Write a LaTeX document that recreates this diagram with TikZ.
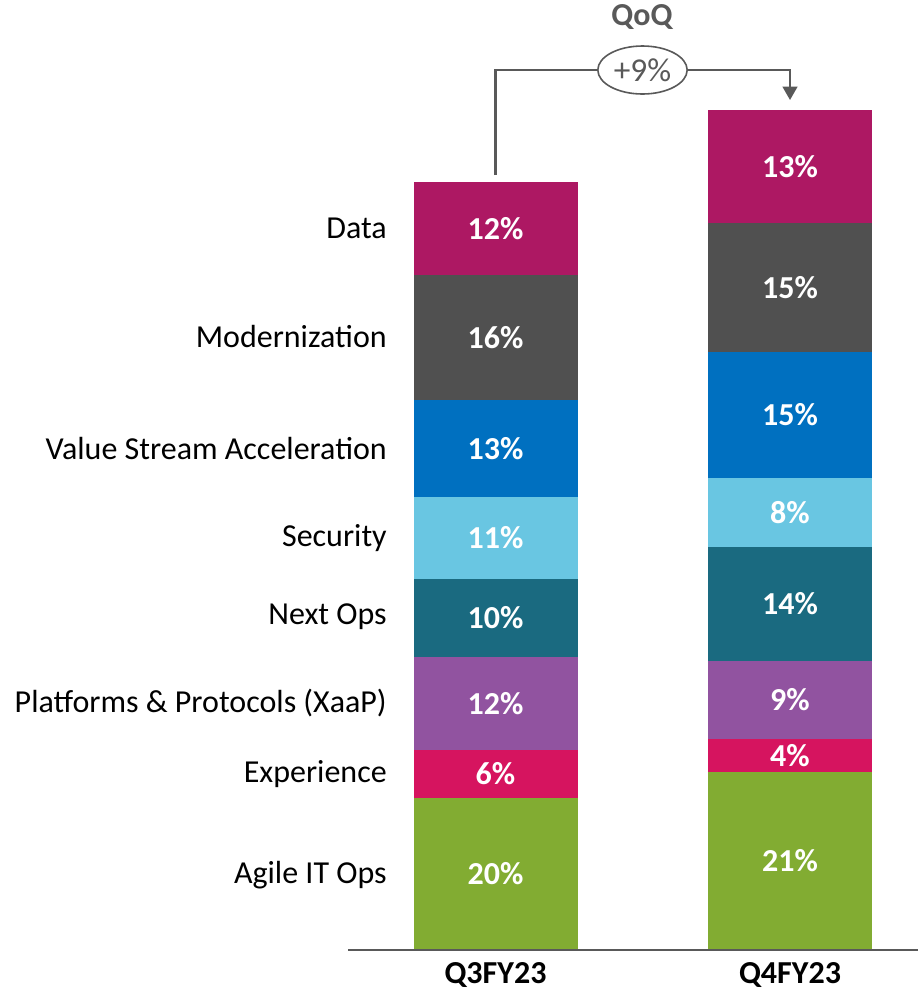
\documentclass[tikz,border=0pt]{standalone}
\usepackage{fontspec}
\setmainfont{Carlito}
\usetikzlibrary{positioning,arrows.meta,shapes.geometric}
\definecolor{cdata}{RGB}{173,24,99}
\definecolor{cmodern}{RGB}{80,80,80}
\definecolor{cvalue}{RGB}{0,112,192}
\definecolor{csecurity}{RGB}{105,198,226}
\definecolor{cnextops}{RGB}{26,106,128}
\definecolor{cplatform}{RGB}{145,83,160}
\definecolor{cexper}{RGB}{214,20,95}
\definecolor{cagile}{RGB}{130,172,50}
\definecolor{linegray}{RGB}{89,89,89}
\tikzset{
  seg/.style={rectangle,inner sep=0,outer sep=0,minimum width=123pt,text=white,font=\fontsize{24}{27}\selectfont\bfseries},
  cat/.style={anchor=east,inner sep=0,font=\fontsize{24}{27}\selectfont},
  conn/.style={draw=linegray,line width=1.6pt},
}
\begin{document}
\begin{tikzpicture}[x=0.75pt,y=-0.75pt]
\useasboundingbox (0,0) rectangle (918,990);
%Q3 bar
\foreach \name/\top/\bot/\col/\val in {data/182/275/cdata/12,modern/275/400/cmodern/16,value/400/497/cvalue/13,security/497/579/csecurity/11,nextops/579/657/cnextops/10,platform/657/750/cplatform/12,exper/750/798/cexper/6,agile/798/950/cagile/20}{
  \pgfmathsetmacro{\h}{(\bot-\top)*0.75}
  \node (q3\name) at (495.5,{(\top+\bot)/2}) [seg,fill=\col,minimum height=\h pt] {\val\%};
}
%Q4 bar
\foreach \name/\top/\bot/\col/\val in {data/110/223/cdata/13,modern/223/352/cmodern/15,value/352/478/cvalue/15,security/478/547/csecurity/8,nextops/547/661/cnextops/14,platform/661/739/cplatform/9,exper/739/772/cexper/4,agile/772/950/cagile/21}{
  \pgfmathsetmacro{\h}{(\bot-\top)*0.75}
  \node (q4\name) at (790,{(\top+\bot)/2}) [seg,fill=\col,minimum height=\h pt] {\val\%};
}

%category labels
\node (ldata) at (387,228) [cat] {Data};
\node (lmodern) at (387,337) [cat] {Modernization};
\node (lvalue) at (387,448) [cat] {Value Stream Acceleration};
\node (lsecurity) at (387,538) [cat] {Security};
\node (lnextops) at (387,617) [cat] {Next Ops};
\node (lplatform) at (387,703) [cat] {Platforms \& Protocols (XaaP)};
\node (lexper) at (387,774) [cat] {Experience};
\node (lagile) at (387,875) [cat] {Agile IT Ops};

%axis
\coordinate (axl) at (348,950);
\coordinate (axr) at (918,950);
\draw [draw=linegray,line width=1.5pt] (axl) -- (axr);
\node (x3) at (495.5,975) [font=\fontsize{24}{27}\selectfont\bfseries] {Q3FY23};
\node (x4) at (790,975) [font=\fontsize{24}{27}\selectfont\bfseries] {Q4FY23};

%growth
\node (qoq) at (642,17) [text=linegray,font=\fontsize{24}{27}\selectfont\bfseries] {QoQ};
\node (pct) at (642.5,70) [draw=linegray,line width=1.2pt,ellipse,inner sep=0,minimum width=67pt,minimum height=36pt,text=linegray,font=\fontsize{25}{28}\selectfont] {+9\%};
\draw [conn] ([yshift=5.25pt]q3data.north) |- (pct.west);
\draw [conn,-{Triangle[length=10pt,width=11pt]}] (pct.east) -| ([yshift=7.5pt]q4data.north);
\end{tikzpicture}
\end{document}
